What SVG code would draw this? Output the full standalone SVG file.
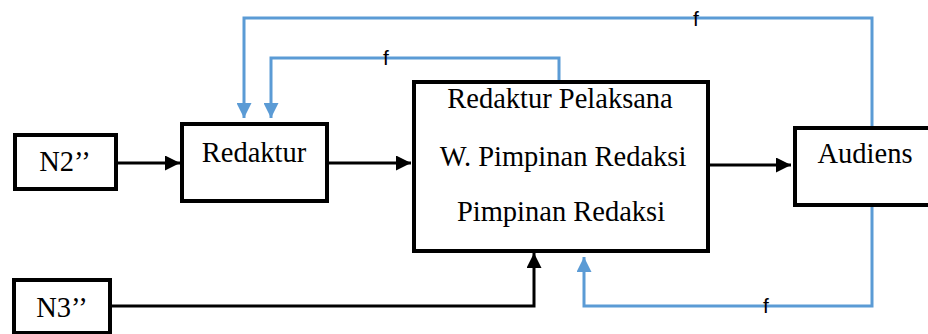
<svg xmlns="http://www.w3.org/2000/svg" width="928" height="334" viewBox="0 0 928 334">
<style>
.box{fill:#fff;stroke:#000;stroke-width:4}
.t{font-family:"Liberation Serif","Times New Roman",serif;font-size:28.5px;fill:#000;text-anchor:middle}
.f{font-family:"Liberation Sans",Arial,sans-serif;font-size:21px;fill:#000;text-anchor:middle}
.k{fill:none;stroke:#000;stroke-width:3}
.b{fill:none;stroke:#5B9BD5;stroke-width:3}
</style>
<defs>
<marker id="ak" viewBox="0 0 10 10" refX="10" refY="5" markerWidth="5" markerHeight="5" orient="auto" markerUnits="strokeWidth"><path d="M0,0L10,5L0,10z" fill="#000"/></marker>
<marker id="ab" viewBox="0 0 10 10" refX="10" refY="5" markerWidth="5" markerHeight="5" orient="auto" markerUnits="strokeWidth"><path d="M0,0L10,5L0,10z" fill="#5B9BD5"/></marker>
</defs>
<g id="connectors">
<path class="k" d="M116,163H180" marker-end="url(#ak)"/>
<path class="k" d="M327,163H411" marker-end="url(#ak)"/>
<path class="k" d="M708,165H791" marker-end="url(#ak)"/>
<path class="k" d="M110,306H534V253" marker-end="url(#ak)"/>
<path class="b" d="M872,127V18H244V118" marker-end="url(#ab)"/>
<path class="b" d="M559,81V58H271V118" marker-end="url(#ab)"/>
<path class="b" d="M872,205V306H584V257" marker-end="url(#ab)"/>
<text class="f" x="696" y="26">f</text>
<text class="f" x="386" y="65">f</text>
<text class="f" x="766" y="313">f</text>
</g>
<g id="n2">
<rect class="box" x="15" y="135" width="101" height="54"/>
<text class="t" x="65" y="171">N2’’</text>
</g>
<g id="redaktur">
<rect class="box" x="182" y="124" width="145" height="77"/>
<text class="t" x="254" y="162">Redaktur</text>
</g>
<g id="main">
<rect class="box" x="414" y="82" width="294" height="169"/>
<text class="t" x="560" y="108">Redaktur Pelaksana</text>
<text class="t" x="563" y="166">W. Pimpinan Redaksi</text>
<text class="t" x="561" y="221">Pimpinan Redaksi</text>
</g>
<g id="audiens">
<rect class="box" x="795" y="128" width="140" height="77"/>
<text class="t" x="865" y="163">Audiens</text>
</g>
<g id="n3">
<rect class="box" x="14" y="280" width="96" height="53"/>
<text class="t" x="62" y="317">N3’’</text>
</g>
</svg>
